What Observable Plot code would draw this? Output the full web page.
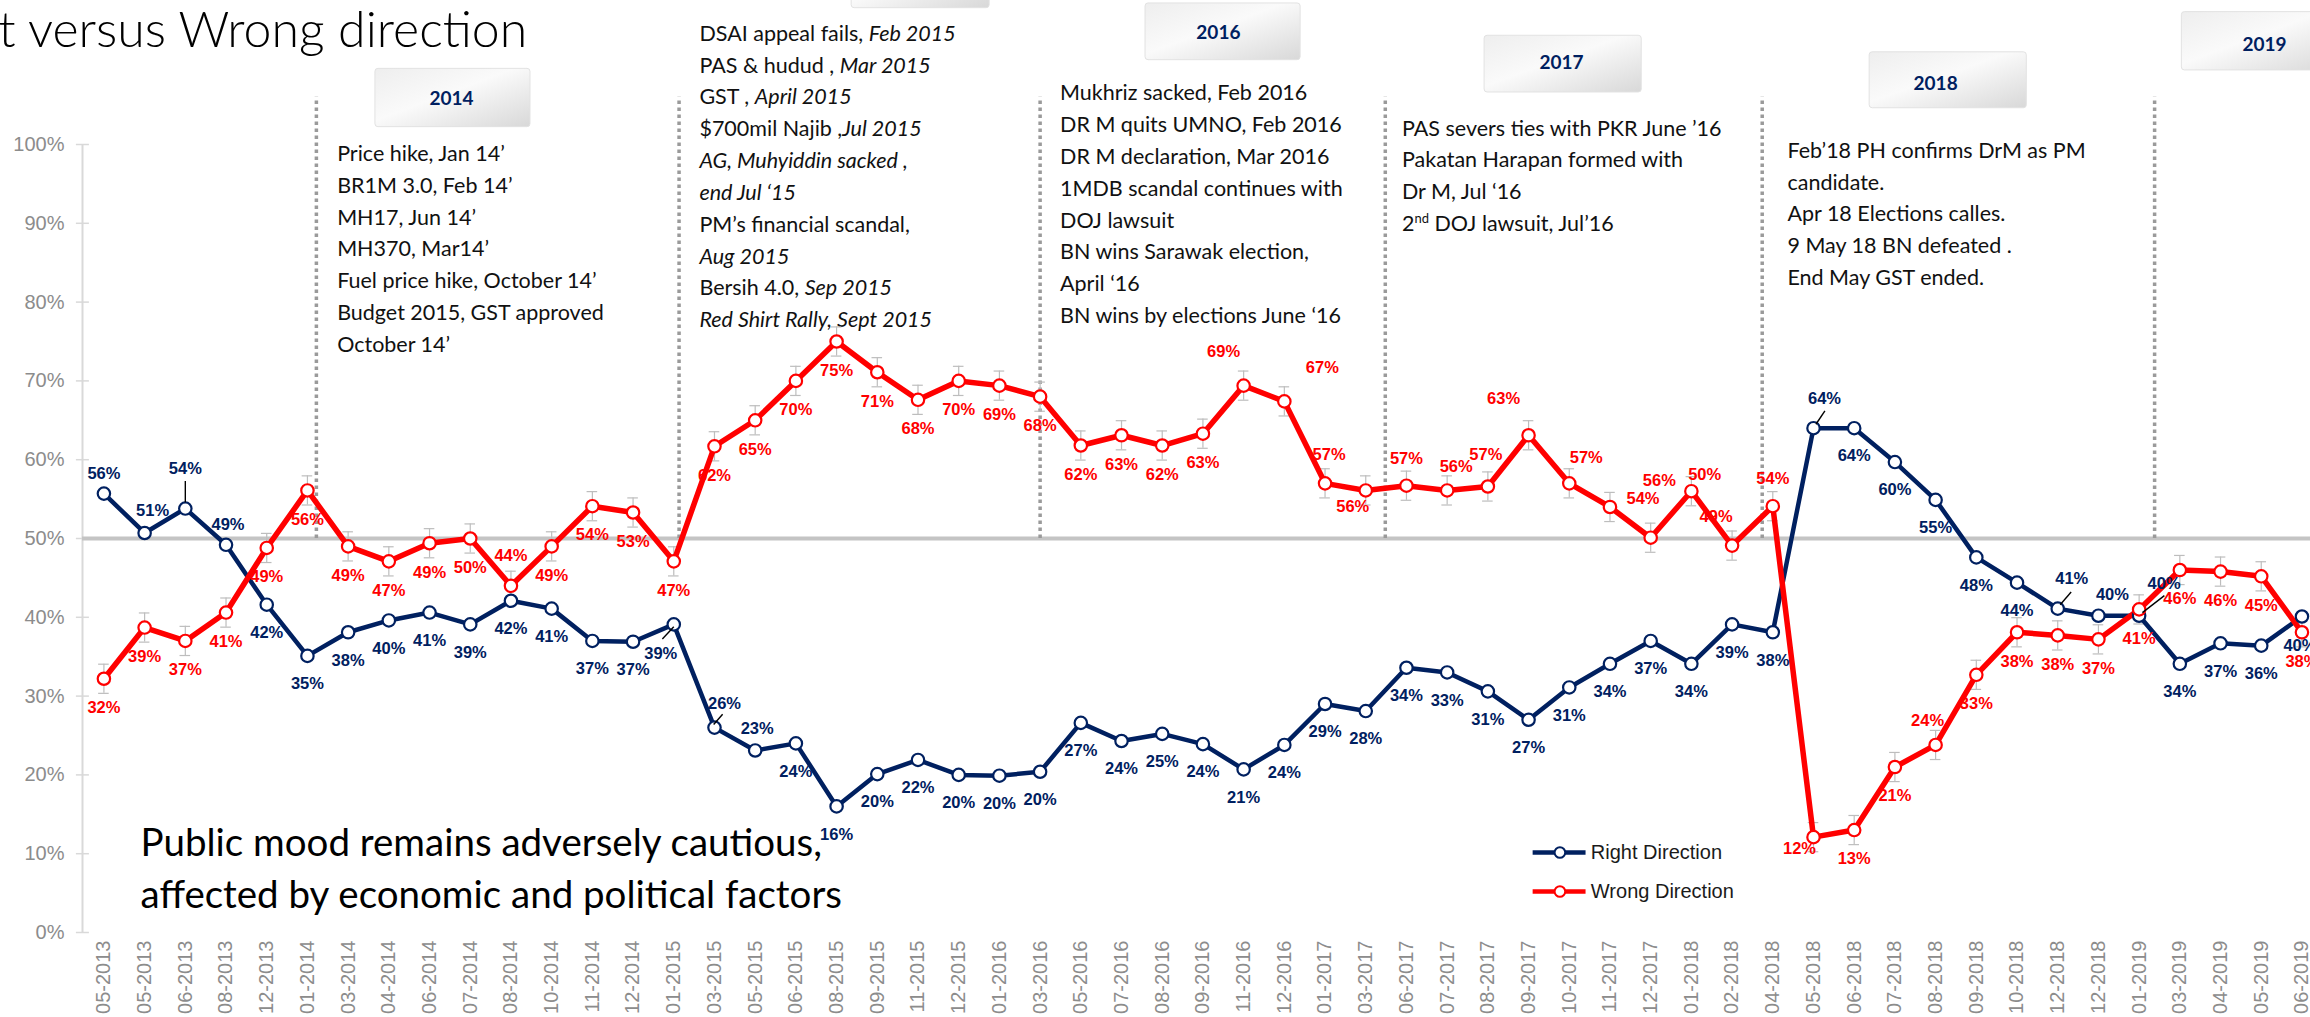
<!DOCTYPE html>
<html>
<head>
<meta charset="utf-8">
<script src="https://cdn.jsdelivr.net/npm/d3@7"></script>
<script src="https://cdn.jsdelivr.net/npm/@observablehq/plot@0.6"></script>
<style>
  html, body { margin: 0; padding: 0; background: #fff; overflow: hidden; }
  #chart svg { display: block; }
</style>
</head>
<body>
<div id="chart"></div>
<script>
// ---------- DATA ----------
const months = ["05-2013","05-2013","06-2013","08-2013","12-2013","01-2014","03-2014","04-2014","06-2014","07-2014","08-2014","10-2014","11-2014","12-2014","01-2015","03-2015","05-2015","06-2015","08-2015","09-2015","11-2015","12-2015","01-2016","03-2016","05-2016","07-2016","08-2016","09-2016","11-2016","12-2016","01-2017","03-2017","06-2017","07-2017","08-2017","09-2017","10-2017","11-2017","12-2017","01-2018","02-2018","04-2018","05-2018","06-2018","07-2018","08-2018","09-2018","10-2018","12-2018","12-2018","01-2019","03-2019","04-2019","05-2019","06-2019"];

const rightDirection = [55.7,50.7,53.8,49.2,41.6,35.1,38.1,39.6,40.6,39.1,42.1,41.1,37.0,36.9,39.1,26.0,23.1,24.0,16.0,20.1,21.9,20.0,19.9,20.4,26.6,24.3,25.2,23.9,20.7,23.8,29.0,28.1,33.6,33.0,30.6,27.0,31.1,34.1,37.0,34.1,39.1,38.1,64.0,64.0,59.7,54.9,47.6,44.4,41.1,40.2,40.2,34.1,36.7,36.4,40.1];

const wrongDirection = [32.2,38.7,37.0,40.6,48.8,56.1,49.0,47.1,49.4,50.0,44.0,49.0,54.1,53.3,47.1,61.7,65.0,70.0,75.0,71.1,67.6,70.0,69.4,68.0,61.8,63.1,61.8,63.3,69.4,67.4,57.0,56.1,56.7,56.1,56.6,63.1,57.0,54.0,50.1,56.0,49.1,54.1,12.1,13.0,21.0,23.8,32.7,38.1,37.7,37.2,41.0,46.0,45.8,45.2,38.1];

const errorMargin = 1.85; // +/- percentage points on Wrong Direction
const yTicks = [0,10,20,30,40,50,60,70,80,90,100];

const seriesNames = ["Right Direction", "Wrong Direction"];

const titleText = "t versus Wrong direction";
const captionLines = ["Public mood remains adversely cautious,", "affected by economic and political factors"];

const periodDividers = [5.22, 14.13, 23.0, 31.48, 40.74, 50.38];

const yearTags = [
  {year: "2014", x1: 6.67, x2: 10.48, y1: 102.2, y2: 109.6, tx: 8.54, ty: 105.8},
  {year: "",     x1: 18.37, x2: 21.76, y1: 117.3, y2: 126.0, tx: 20.0, ty: 121.5},
  {year: "2016", x1: 25.59, x2: 29.4, y1: 110.7, y2: 117.9, tx: 27.38, ty: 114.1},
  {year: "2017", x1: 33.92, x2: 37.78, y1: 106.6, y2: 113.8, tx: 35.81, ty: 110.3},
  {year: "2018", x1: 43.38, x2: 47.24, y1: 104.6, y2: 111.7, tx: 45.0, ty: 107.7},
  {year: "2019", x1: 51.05, x2: 54.9, y1: 109.4, y2: 116.8, tx: 53.08, ty: 112.6}
];

// _..._ = italic, ^..^ = superscript
const eventNotes = [
  {x: 5.73, y: 98.8, lines: [
    "Price hike, Jan 14’",
    "BR1M 3.0, Feb 14’",
    "MH17, Jun 14’",
    "MH370, Mar14’",
    "Fuel price hike, October 14’",
    "Budget 2015, GST approved",
    "October 14’"]},
  {x: 14.63, y: 114.05, lines: [
    "DSAI appeal fails, _Feb 2015_",
    "PAS & hudud , _Mar 2015_",
    "GST , _April 2015_",
    "$700mil Najib ,_Jul 2015_",
    "_AG, Muhyiddin sacked ,_",
    "_end Jul ‘15_",
    "PM’s financial scandal,",
    "_Aug 2015_",
    "Bersih 4.0, _Sep 2015_",
    "_Red Shirt Rally, Sept 2015_"]},
  {x: 23.49, y: 106.5, lines: [
    "Mukhriz sacked, Feb 2016",
    "DR M quits UMNO, Feb 2016",
    "DR M declaration, Mar 2016",
    "1MDB scandal continues with",
    "DOJ lawsuit",
    "BN wins Sarawak election,",
    "April ‘16",
    "BN wins by elections June ‘16"]},
  {x: 31.89, y: 102.0, lines: [
    "PAS severs ties with PKR June ’16",
    "Pakatan Harapan formed with",
    "Dr M, Jul ‘16",
    "2^nd^ DOJ lawsuit, Jul’16"]},
  {x: 41.36, y: 99.2, lines: [
    "Feb’18 PH confirms DrM as PM",
    "candidate.",
    "Apr 18 Elections calles.",
    "9 May 18 BN defeated .",
    "End May GST ended."]}
];

// label placement (pixel offsets from the point); default below
const rightLabelDefault = [0, 28];
const rightLabelOffsets = {0:[0,-20],1:[8,-22],2:[0,-40],3:[2,-20],14:[-13,29],15:[10,-24],16:[2,-22],42:[11,-29],48:[14,-30],49:[14,-21],50:[25,-32],54:[-2,29]};
const wrongLabelDefault = [0, 29];
const wrongLabelOffsets = {10:[0,-30],28:[-20,-34],29:[38,-34],30:[4,-29],31:[-13,16],32:[0,-27],33:[9,-24],34:[-2,-32],35:[-25,-37],36:[17,-26],37:[33,-8],38:[54,-63],39:[-32,-11],40:[-16,-29],41:[0,-27],42:[-14,12],45:[-8,-24]};

const leaders = [
  {x1: 2, y1: 57.3, x2: 2, y2: 54.6},
  {x1: 13.72, y1: 37.25, x2: 14.0, y2: 38.8},
  {x1: 14.98, y1: 26.4, x2: 15.2, y2: 27.7},
  {x1: 42.28, y1: 66.2, x2: 42.06, y2: 64.5},
  {x1: 48.33, y1: 43.2, x2: 48.06, y2: 41.6},
  {x1: 50.62, y1: 42.75, x2: 50.08, y2: 40.6}
];

const legendItems = [
  {name: seriesNames[0], y: 10.16},
  {name: seriesNames[1], y: 5.2}
];

// ---------- BUILD ----------
const navy = "#002060", red = "#ff0000";
const colors = {[seriesNames[0]]: navy, [seriesNames[1]]: red};
const rightData = rightDirection.map((v, i) => ({i, v}));
const wrongData = wrongDirection.map((v, i) => ({i, v}));
const pct = d => Math.round(d.v) + "%";
const labelFont = "Liberation Sans, Arial, sans-serif";
const noteFont = "Lato, 'Open Sans', sans-serif";

function labelMarks(data, overrides, def, color) {
  const common = {x: "i", y: "v", text: pct, fill: color, fontWeight: "bold", fontSize: 16.5, fontFamily: labelFont};
  const marks = [Plot.text(data, {...common, filter: d => !(d.i in overrides), dx: def[0], dy: def[1]})];
  for (const [k, [dx, dy]] of Object.entries(overrides)) {
    marks.push(Plot.text([data[+k]], {...common, dx, dy}));
  }
  return marks;
}

const noteLines = eventNotes.flatMap(b => b.lines.map((t, k) => ({x: b.x, y: b.y - k * 4.04, t})));
const captionData = captionLines.map((t, k) => ({t, k}));

const defsMark = () => {
  const defs = d3.create("svg:defs");
  const g = defs.append("linearGradient").attr("id", "tagGrad")
    .attr("x1", "0").attr("y1", "0").attr("x2", "1").attr("y2", "1");
  g.append("stop").attr("offset", "0%").attr("stop-color", "#eeeeee");
  g.append("stop").attr("offset", "45%").attr("stop-color", "#fafafa");
  g.append("stop").attr("offset", "100%").attr("stop-color", "#d8d8d8");
  const f = defs.append("filter").attr("id", "tagShadow").attr("x", "-20%").attr("y", "-30%").attr("width", "140%").attr("height", "170%");
  f.append("feDropShadow").attr("dx", 2).attr("dy", 4).attr("stdDeviation", 2.5)
    .attr("flood-color", "#000").attr("flood-opacity", 0.25);
  return defs.node();
};

const chart = Plot.plot({
  width: 2310,
  height: 1017,
  marginLeft: 82,
  marginRight: 0,
  marginTop: 144,
  marginBottom: 85,
  x: {domain: [-0.526, 54.21], axis: null},
  y: {domain: [0, 100], axis: null},
  style: {fontFamily: labelFont, background: "#fff", overflow: "visible"},
  marks: [
    defsMark,
    // title
    Plot.text([titleText], {x: -2.59, y: 112.4, text: d => d, textAnchor: "start", lineAnchor: "bottom",
      fontSize: 50, fontWeight: 300, fontFamily: noteFont, fill: "#000"}),
    // year tags
    Plot.rect(yearTags, {x1: "x1", x2: "x2", y1: "y1", y2: "y2", fill: "url(#tagGrad)", stroke: "#e2e2e2", rx: 3, ariaLabel: "tag"}),
    Plot.text(yearTags, {x: "tx", y: "ty", text: "year", fill: navy, fontWeight: "bold", fontSize: 19, fontFamily: noteFont}),
    // y axis
    Plot.ruleX([-0.526], {y1: 0, y2: 100, stroke: "#d9d9d9", strokeWidth: 2}),
    Plot.ruleY(yTicks, {y: d => d, x1: -0.526 - 0.15, x2: -0.526 + 0.17, stroke: "#d9d9d9", strokeWidth: 1.5}),
    Plot.axisY(yTicks, {tickFormat: d => d + "%", tickSize: 0, tickPadding: 18, fontSize: 20, fill: "#8c8c8c"}),
    // x axis
    Plot.axisX(d3.range(months.length), {tickFormat: i => months[i], tickRotate: -90, tickSize: 0, tickPadding: 8, fontSize: 20, fill: "#8c8c8c"}),
    // 50% reference
    Plot.ruleY([50], {stroke: "#c4c4c4", strokeWidth: 4}),
    // period dividers
    Plot.ruleX(periodDividers, {x: d => d, y1: 50, y2: 106, stroke: "#9a9a9a", strokeWidth: 3.5, strokeDasharray: "3.5,3.5"}),
    // event notes
    Plot.text(noteLines, {x: "x", y: "y", text: "t", textAnchor: "start", fontSize: 21.5, fontFamily: noteFont, fill: "#111"}),
    // error bars on Wrong Direction
    Plot.ruleX(wrongData, {x: "i", y1: d => d.v - errorMargin, y2: d => d.v + errorMargin, stroke: "#bdbdbd", strokeWidth: 1.2}),
    Plot.ruleY(wrongData, {y: d => d.v + errorMargin, x1: d => d.i - 0.13, x2: d => d.i + 0.13, stroke: "#bdbdbd", strokeWidth: 1.2}),
    Plot.ruleY(wrongData, {y: d => d.v - errorMargin, x1: d => d.i - 0.13, x2: d => d.i + 0.13, stroke: "#bdbdbd", strokeWidth: 1.2}),
    // caption
    Plot.text(captionData, {x: 0.9, y: d => d.k === 0 ? 9.74 : 3.17, text: "t", textAnchor: "start", lineAnchor: "bottom",
      fontSize: 38.5, fontFamily: noteFont, fill: "#000"}),
    // lines
    Plot.line(rightData, {x: "i", y: "v", stroke: navy, strokeWidth: 4.5, strokeLinejoin: "round"}),
    Plot.line(wrongData, {x: "i", y: "v", stroke: red, strokeWidth: 5.5, strokeLinejoin: "round"}),
    Plot.dot(rightData, {x: "i", y: "v", r: 6.2, fill: "#fff", stroke: navy, strokeWidth: 2.2}),
    Plot.dot(wrongData, {x: "i", y: "v", r: 6.2, fill: "#fff", stroke: red, strokeWidth: 2.2}),
    // leaders
    Plot.link(leaders, {x1: "x1", y1: "y1", x2: "x2", y2: "y2", stroke: "#000", strokeWidth: 1.4}),
    // labels
    ...labelMarks(rightData, rightLabelOffsets, rightLabelDefault, navy),
    ...labelMarks(wrongData, wrongLabelOffsets, wrongLabelDefault, red),
    // legend
    Plot.link(legendItems, {x1: 35.1, x2: 36.4, y1: "y", y2: "y", stroke: d => colors[d.name], strokeWidth: 4.5}),
    Plot.dot(legendItems, {x: 35.77, y: "y", r: 5.3, fill: "#fff", stroke: d => colors[d.name], strokeWidth: 2}),
    Plot.text(legendItems, {x: 36.53, y: "y", text: "name", textAnchor: "start", fontSize: 20, fill: "#1a1a1a"})
  ]
});

// italic / superscript segments in notes
const NS = "http://www.w3.org/2000/svg";
chart.querySelectorAll("text").forEach(t => {
  const s = t.textContent;
  if (!/[_^]/.test(s)) return;
  t.textContent = "";
  let sup = false;
  for (const p of s.split(/(_[^_]*_|\^[^^]*\^)/).filter(Boolean)) {
    const ts = document.createElementNS(NS, "tspan");
    if (p[0] === "_") { ts.textContent = p.slice(1, -1); ts.setAttribute("font-style", "italic"); }
    else if (p[0] === "^") { ts.textContent = p.slice(1, -1); ts.setAttribute("font-size", "13"); ts.setAttribute("dy", "-8"); sup = true; }
    else { ts.textContent = p; if (sup) { ts.setAttribute("dy", "8"); sup = false; } }
    t.appendChild(ts);
  }
});
chart.querySelectorAll('g[aria-label="tag"]').forEach(g => g.setAttribute("filter", "url(#tagShadow)"));

document.getElementById("chart").appendChild(chart);
</script>
</body>
</html>
